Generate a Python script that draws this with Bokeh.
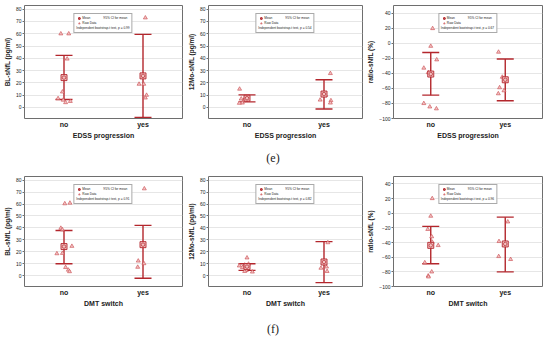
import math
from bokeh.plotting import figure
from bokeh.models import (Range1d, FixedTicker, ColumnDataSource, Whisker, TeeHead,
                          Legend, LegendItem, Div)
from bokeh.layouts import column, row
from bokeh.embed import file_html
from bokeh.resources import INLINE

# ---------------- data ----------------
groups = ["no", "yes"]
group_pos = [1, 2]

yticks_conc = [0, 10, 20, 30, 40, 50, 60, 70, 80]
yticks_ratio = [-100, -80, -60, -40, -20, 0, 20, 40]

# (e) EDSS progression
bl_edss_no = [60, 60, 39.5, 12.7, 7.3, 6, 4, 5]
bl_edss_no_jit = [-0.04, 0.06, 0.04, -0.02, -0.075, -0.01, 0.02, 0.08]
bl_edss_yes = [73, 19, 19, 10, 7.8]
bl_edss_yes_jit = [0.03, -0.05, 0.01, 0.045, 0.03]
bl_edss_mean = [24.3, 25.7]
bl_edss_lo = [6.5, -8.1]
bl_edss_hi = [42.4, 59.5]
bl_edss_p = "0.99"

m12_edss_no = [15, 8.8, 8, 7, 6.4, 5.6, 3.7, 3.5]
m12_edss_no_jit = [-0.096, 0.008, -0.02, -0.075, -0.008, -0.04, -0.06, -0.1]
m12_edss_yes = [27.7, 10, 6.1, 5.6, 3.7]
m12_edss_yes_jit = [0.083, 0.02, -0.05, 0.09, 0.083]
m12_edss_mean = [7.5, 10.9]
m12_edss_lo = [4.5, -1.3]
m12_edss_hi = [10.2, 22.6]
m12_edss_p = "0.54"

ratio_edss_no = [19.5, -4, -22, -33, -39, -80, -84.5, -87]
ratio_edss_no_jit = [0.025, 0, 0.08, -0.093, -0.034, -0.093, -0.013, 0.076]
ratio_edss_yes = [-11.8, -45, -59, -63, -67]
ratio_edss_yes_jit = [-0.09, -0.04, -0.076, -0.017, -0.093]
ratio_edss_mean = [-41, -48.6]
ratio_edss_lo = [-69, -76.4]
ratio_edss_hi = [-12.3, -21]
ratio_edss_p = "0.67"

# (f) DMT switch
bl_dmt_no = [60.3, 60.8, 39.8, 38.5, 24.7, 18.5, 18.8, 7, 4.8, 3.5]
bl_dmt_no_jit = [0.01, 0.075, -0.04, -0.02, 0.1, -0.09, -0.02, 0.02, 0.055, 0.07]
bl_dmt_yes = [72.8, 12.4, 10.2, 7.2]
bl_dmt_yes_jit = [0.017, -0.06, 0.012, -0.067]
bl_dmt_mean = [24.4, 26]
bl_dmt_lo = [10, -2.1]
bl_dmt_hi = [37.8, 42.1]
bl_dmt_p = "0.91"

m12_dmt_no = [15, 9.8, 9, 8.3, 7, 4.5, 3.7, 3.2]
m12_dmt_no_jit = [0, 0.02, -0.03, -0.1, -0.06, -0.01, -0.03, 0.07]
m12_dmt_yes = [27.7, 7.4, 6.4, 3.7]
m12_dmt_yes_jit = [0.05, 0.033, -0.04, 0.04]
m12_dmt_mean = [7.6, 11.5]
m12_dmt_lo = [4.5, -5.8]
m12_dmt_hi = [10, 28.5]
m12_dmt_p = "0.82"

ratio_dmt_no = [20, -4, -22, -32, -39.4, -44, -67.4, -80, -85.5, -86.8]
ratio_dmt_no_jit = [0.02, 0, -0.04, 0.013, 0.02, 0.1, -0.08, 0.013, -0.034, -0.03]
ratio_dmt_yes = [-11.8, -38.5, -59, -63]
ratio_dmt_yes_jit = [0.034, -0.084, -0.088, 0.072]
ratio_dmt_mean = [-43.9, -42]
ratio_dmt_lo = [-69, -80]
ratio_dmt_hi = [-18, -5.4]
ratio_dmt_p = "0.96"

# ---------------- style ----------------
RED = "#b3262c"
PINK = "#f3c2c2"
TXT = "#222222"
FONT = "Liberation Sans"


def panel(ylabel, xlabel, yr, yticks, no_v, no_j, yes_v, yes_j, means, lo, hi, pval,
          width, height, min_left, min_right, min_top):
    p = figure(width=width, height=height, x_range=Range1d(0.5, 2.5), y_range=Range1d(*yr),
               output_backend="svg", toolbar_location=None,
               min_border_left=min_left, min_border_right=min_right,
               min_border_top=min_top, min_border_bottom=2)
    p.outline_line_color = "#6e6e6e"
    p.outline_line_width = 1
    p.xgrid.visible = False
    p.ygrid.grid_line_color = "#e0e0e0"
    p.ygrid.grid_line_width = 0.8
    p.ygrid.ticker = FixedTicker(ticks=yticks)

    xs = [group_pos[0] + j for j in no_j] + [group_pos[1] + j for j in yes_j]
    ys = list(no_v) + list(yes_v)
    tri = p.scatter(xs, ys, marker="triangle", size=4, line_color="#c8474c",
                    fill_color=PINK, line_width=0.6)

    ci_src = ColumnDataSource(dict(base=group_pos, lower=lo, upper=hi))
    w = Whisker(source=ci_src, base="base", lower="lower", upper="upper",
                dimension="height", line_color=RED, line_width=1.4,
                upper_head=TeeHead(size=17, line_color=RED, line_width=1.4),
                lower_head=TeeHead(size=17, line_color=RED, line_width=1.4))
    p.add_layout(w)

    sq = p.scatter(group_pos, means, marker="square", size=6, line_color=RED,
                   fill_color=PINK, line_width=0.9)
    cc = p.scatter(group_pos, means, marker="circle", size=3.5, line_color=RED,
                   fill_color=None, line_width=0.7)
    dummy = p.scatter([], [], marker="dash", angle=math.pi / 2, size=5,
                      line_color=RED, line_width=1.3)

    leg = Legend(items=[LegendItem(label="Mean", renderers=[sq, cc]),
                        LegendItem(label="95% CI for mean", renderers=[dummy]),
                        LegendItem(label="Raw Data", renderers=[tri])],
                 location="top_center", orientation="horizontal", ncols=2,
                 title=f"Independent bootstrap-t test, p = {pval}")
    leg.label_text_font_size = "3.2px"
    leg.label_text_font = FONT
    leg.label_text_color = TXT
    leg.title_text_font_size = "3.2px"
    leg.title_text_font = FONT
    leg.title_text_color = TXT
    leg.title_text_font_style = "normal"
    leg.glyph_width = 5
    leg.glyph_height = 4
    leg.label_height = 4
    leg.label_width = 6
    leg.label_standoff = 1
    leg.spacing = 1
    leg.padding = 2
    leg.margin = 8
    leg.title_standoff = 1
    leg.border_line_color = "#555555"
    leg.border_line_width = 0.6
    if "title_location" in Legend.properties():
        leg.title_location = "below"
    p.add_layout(leg)

    ya = p.yaxis[0]
    ya.ticker = FixedTicker(ticks=yticks)
    ya.axis_label = ylabel
    ya.axis_label_text_font = FONT
    ya.axis_label_text_font_size = "6.5px"
    ya.axis_label_text_font_style = "bold"
    ya.axis_label_text_color = TXT
    ya.axis_label_standoff = 2
    ya.major_label_text_font = FONT
    ya.major_label_text_font_size = "5px"
    ya.major_label_text_color = TXT
    ya.major_label_standoff = 1
    ya.major_tick_out = 2
    ya.major_tick_in = 0
    ya.major_tick_line_color = "#6e6e6e"
    ya.minor_tick_line_color = None
    ya.axis_line_color = None

    xa = p.xaxis[0]
    xa.ticker = FixedTicker(ticks=group_pos)
    xa.major_label_overrides = {group_pos[0]: groups[0], group_pos[1]: groups[1]}
    xa.axis_label = xlabel
    xa.axis_label_text_font = FONT
    xa.axis_label_text_font_size = "7px"
    xa.axis_label_text_font_style = "bold"
    xa.axis_label_text_color = TXT
    xa.axis_label_standoff = 1
    xa.major_label_text_font = FONT
    xa.major_label_text_font_size = "7px"
    xa.major_label_text_font_style = "bold"
    xa.major_label_text_color = TXT
    xa.major_label_standoff = 2
    xa.major_tick_out = 0
    xa.major_tick_in = 0
    xa.major_tick_line_color = None
    xa.minor_tick_line_color = None
    xa.axis_line_color = None
    return p


W = [184, 180, 186]
LB = [22, 18, 19]
RB = [2, 2, 8]
H1, H2 = 141, 134
T1, T2 = 5, 1

row1 = row(
    panel("BL-sNfL (pg/ml)", "EDSS progression", (-9, 83), yticks_conc,
          bl_edss_no, bl_edss_no_jit, bl_edss_yes, bl_edss_yes_jit,
          bl_edss_mean, bl_edss_lo, bl_edss_hi, bl_edss_p, W[0], H1, LB[0], RB[0], T1),
    panel("12Mo-sNfL (pg/ml)", "EDSS progression", (-9, 83), yticks_conc,
          m12_edss_no, m12_edss_no_jit, m12_edss_yes, m12_edss_yes_jit,
          m12_edss_mean, m12_edss_lo, m12_edss_hi, m12_edss_p, W[1], H1, LB[1], RB[1], T1),
    panel("ratio-sNfL (%)", "EDSS progression", (-100, 50), yticks_ratio,
          ratio_edss_no, ratio_edss_no_jit, ratio_edss_yes, ratio_edss_yes_jit,
          ratio_edss_mean, ratio_edss_lo, ratio_edss_hi, ratio_edss_p, W[2], H1, LB[2], RB[2], T1),
)
row2 = row(
    panel("BL-sNfL (pg/ml)", "DMT switch", (-9, 83), yticks_conc,
          bl_dmt_no, bl_dmt_no_jit, bl_dmt_yes, bl_dmt_yes_jit,
          bl_dmt_mean, bl_dmt_lo, bl_dmt_hi, bl_dmt_p, W[0], H2, LB[0], RB[0], T2),
    panel("12Mo-sNfL (pg/ml)", "DMT switch", (-9, 83), yticks_conc,
          m12_dmt_no, m12_dmt_no_jit, m12_dmt_yes, m12_dmt_yes_jit,
          m12_dmt_mean, m12_dmt_lo, m12_dmt_hi, m12_dmt_p, W[1], H2, LB[1], RB[1], T2),
    panel("ratio-sNfL (%)", "DMT switch", (-100, 50), yticks_ratio,
          ratio_dmt_no, ratio_dmt_no_jit, ratio_dmt_yes, ratio_dmt_yes_jit,
          ratio_dmt_mean, ratio_dmt_lo, ratio_dmt_hi, ratio_dmt_p, W[2], H2, LB[2], RB[2], T2),
)

div_style = {"text-align": "center", "font-family": "'Liberation Serif', serif",
             "font-size": "12px", "color": "#222"}
div_e = Div(text="(e)", width=546, height=34, margin=0,
            styles=dict(div_style, **{"line-height": "34px"}))
div_f = Div(text="(f)", width=546, height=30, margin=0,
            styles=dict(div_style, **{"line-height": "40px"}))

layout = column(row1, div_e, row2, div_f, spacing=0)

open("out.html", "w").write(file_html(layout, INLINE))
